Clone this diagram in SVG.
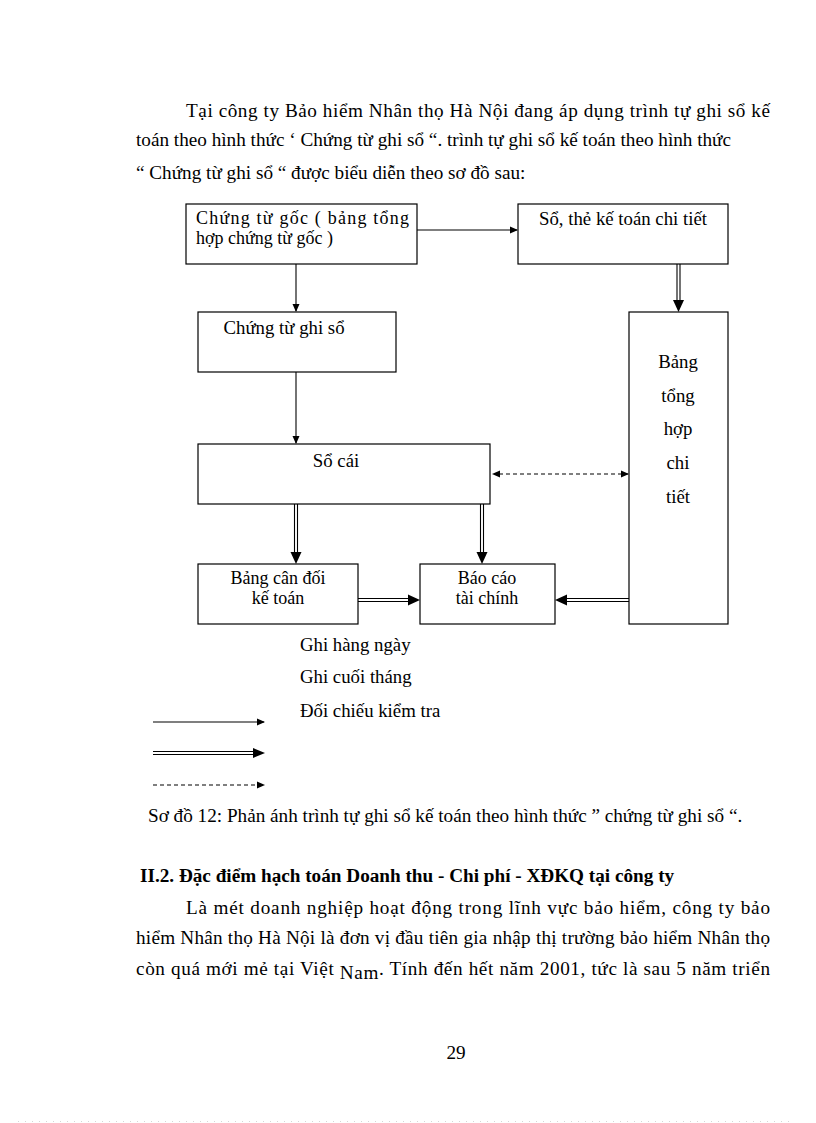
<svg xmlns="http://www.w3.org/2000/svg" width="816" height="1123" viewBox="0 0 816 1123">
<defs>
<style>
text{font-family:"Liberation Serif","Times New Roman",serif;fill:#000}
.b{font-size:19.2px}
.n{font-size:18.8px}
.t{font-size:18px}
.box{fill:#fff;stroke:#000;stroke-width:1.2}
.ln{stroke:#000;stroke-width:1.1;fill:none}
.dl{stroke:#000;stroke-width:1.1;fill:none;stroke-dasharray:4 3}
.hd{fill:#000}
</style>
<marker id="ah" markerWidth="8" markerHeight="8" refX="7" refY="4" orient="auto" markerUnits="userSpaceOnUse"><path d="M0,0.5 L8,4 L0,7.5 Z" fill="#000"/></marker>
<marker id="ahs" markerWidth="8" markerHeight="8" refX="1" refY="4" orient="auto-start-reverse" markerUnits="userSpaceOnUse"><path d="M0,0.5 L8,4 L0,7.5 Z" fill="#000"/></marker>
</defs>
<rect width="816" height="1123" fill="#fff"/>

<g id="intro">
<text class="b" x="186" y="117" textLength="584" lengthAdjust="spacing">Tại công ty Bảo hiểm Nhân thọ Hà Nội đang áp dụng trình tự ghi sổ kế</text>
<text class="b" x="136" y="146">toán theo hình thức ‘ Chứng từ ghi sổ “. trình tự ghi sổ kế toán theo hình thức</text>
<text class="b" x="136" y="179">“ Chứng từ ghi sổ “ được biểu diễn theo sơ đồ sau:</text>
</g>

<g id="n1"><rect class="box" x="186" y="204" width="231" height="60"/>
<text class="t" x="196" y="224" textLength="213" lengthAdjust="spacing">Chứng từ gốc ( bảng tổng</text>
<text class="t" x="196" y="244">hợp chứng từ gốc )</text></g>
<g id="n2"><rect class="box" x="518" y="204" width="210" height="60"/>
<text class="n" x="623" y="225" text-anchor="middle">Sổ, thẻ kế toán chi tiết</text></g>
<g id="n3"><rect class="box" x="198" y="312" width="198" height="60"/>
<text class="n" x="284" y="334" text-anchor="middle">Chứng từ ghi sổ</text></g>
<g id="n4"><rect class="box" x="198" y="444" width="292" height="60"/>
<text class="n" x="336" y="467" text-anchor="middle">Sổ cái</text></g>
<g id="n5"><rect class="box" x="629" y="312" width="99" height="312"/>
<text class="n" x="678" y="368" text-anchor="middle">Bảng</text>
<text class="n" x="678" y="402" text-anchor="middle">tổng</text>
<text class="n" x="678" y="435" text-anchor="middle">hợp</text>
<text class="n" x="678" y="469" text-anchor="middle">chi</text>
<text class="n" x="678" y="503" text-anchor="middle">tiết</text></g>
<g id="n6"><rect class="box" x="198" y="564" width="160" height="60"/>
<text class="t" x="278" y="584" text-anchor="middle">Bảng cân đối</text>
<text class="t" x="278" y="604" text-anchor="middle">kế toán</text></g>
<g id="n7"><rect class="box" x="420" y="564" width="135" height="60"/>
<text class="t" x="487" y="584" text-anchor="middle">Báo cáo</text>
<text class="t" x="487" y="604" text-anchor="middle">tài chính</text></g>

<g id="connectors">
<line class="ln" x1="417" y1="230" x2="517" y2="230" marker-end="url(#ah)"/>
<line class="ln" x1="296" y1="264" x2="296" y2="311" marker-end="url(#ah)"/>
<line class="ln" x1="296" y1="372" x2="296" y2="443" marker-end="url(#ah)"/>
<line class="dl" x1="499" y1="474" x2="628" y2="474" marker-start="url(#ahs)" marker-end="url(#ah)"/>
<g id="d1"><line class="ln" x1="677" y1="264" x2="677" y2="302"/><line class="ln" x1="680" y1="264" x2="680" y2="302"/><path class="hd" d="M673,300 L684,300 L678.5,312 Z"/></g>
<g id="d2"><line class="ln" x1="294.5" y1="504" x2="294.5" y2="554"/><line class="ln" x1="297.5" y1="504" x2="297.5" y2="554"/><path class="hd" d="M290.5,552 L301.5,552 L296,564 Z"/></g>
<g id="d3"><line class="ln" x1="480.5" y1="504" x2="480.5" y2="554"/><line class="ln" x1="483.5" y1="504" x2="483.5" y2="554"/><path class="hd" d="M476.5,552 L487.5,552 L482,564 Z"/></g>
<g id="d4"><line class="ln" x1="358" y1="598.5" x2="410" y2="598.5"/><line class="ln" x1="358" y1="601.5" x2="410" y2="601.5"/><path class="hd" d="M408,594.5 L408,605.5 L420,600 Z"/></g>
<g id="d5"><line class="ln" x1="565" y1="598.5" x2="629" y2="598.5"/><line class="ln" x1="565" y1="601.5" x2="629" y2="601.5"/><path class="hd" d="M567,594.5 L567,605.5 L555,600 Z"/></g>
</g>

<g id="legend">
<text class="n" x="300" y="651">Ghi hàng ngày</text>
<text class="n" x="300" y="683">Ghi cuối tháng</text>
<text class="n" x="300" y="717">Đối chiếu kiểm tra</text>
<line class="ln" x1="153" y1="722" x2="264" y2="722" marker-end="url(#ah)"/>
<g><line class="ln" x1="153" y1="751.5" x2="256" y2="751.5"/><line class="ln" x1="153" y1="754.5" x2="256" y2="754.5"/><path class="hd" d="M253,748 L253,758 L265,753 Z"/></g>
<line class="dl" x1="153" y1="785" x2="264" y2="785" marker-end="url(#ah)"/>
</g>

<g id="caption">
<text class="b" x="148" y="822">Sơ đồ 12: Phản ánh trình tự ghi sổ kế toán theo hình thức ” chứng từ ghi sổ “.</text>
</g>

<g id="body">
<text class="b" x="140" y="882" font-weight="bold">II.2. Đặc điểm hạch toán Doanh thu - Chi phí - XĐKQ tại công ty</text>
<text class="b" x="186" y="914" textLength="584" lengthAdjust="spacing">Là mét doanh nghiệp hoạt động trong lĩnh vực bảo hiểm, công ty bảo</text>
<text class="b" x="136" y="944" textLength="634" lengthAdjust="spacing">hiểm Nhân thọ Hà Nội là đơn vị đầu tiên gia nhập thị trường bảo hiểm Nhân thọ</text>
<text class="b" x="136" y="975" textLength="634" lengthAdjust="spacing">còn quá mới mẻ tại Việt <tspan dy="4">Nam</tspan><tspan dy="-4">. Tính đến hết năm 2001, tức là sau 5 năm triển</tspan></text>
<text class="b" x="456" y="1059" text-anchor="middle">29</text>
</g>
<line x1="18" y1="1121.5" x2="794" y2="1121.5" stroke="#bbb" stroke-width="0.6" stroke-dasharray="1 6"/>
</svg>
